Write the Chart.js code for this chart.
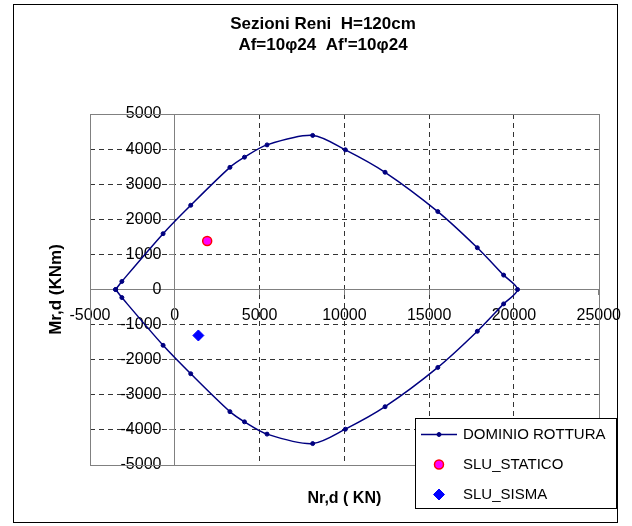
<!DOCTYPE html>
<html>
<head>
<meta charset="utf-8">
<title>Sezioni Reni</title>
<script src="https://cdn.jsdelivr.net/npm/chart.js@4.4.0/dist/chart.umd.min.js"></script>
<style>
  html, body { margin: 0; padding: 0; background: #fff; }
  canvas { display: block; }
</style>
</head>
<body>
<canvas id="myChart" width="632" height="526"></canvas>
<script>
// testi
const titleLines = ['Sezioni Reni  H=120cm', "Af=10\u03c624  Af'=10\u03c624"];
const xTitle = 'Nr,d ( KN)';
const yTitle = 'Mr,d (KNm)';

// assi
const xTicks = [-5000, 0, 5000, 10000, 15000, 20000, 25000];
const yTicks = [-5000, -4000, -3000, -2000, -1000, 0, 1000, 2000, 3000, 4000, 5000];

// dominio di rottura (N, M)
const dominioN = [-3490, -3120, -690, 940, 3250, 4110, 5440, 8130, 10060, 12400, 15510, 17840, 19390, 20210,
                  19390, 17840, 15510, 12400, 10060, 8130, 5440, 4110, 3250, 940, -690, -3120, -3490];
const dominioM = [0, 230, 1590, 2400, 3480, 3770, 4120, 4390, 3980, 3340, 2220, 1190, 410, 0,
                  -410, -1190, -2220, -3340, -3980, -4390, -4120, -3770, -3480, -2400, -1590, -230, 0];

// sollecitazioni
const staticoN = [1910];
const staticoM = [1380];
const sismaN = [1390];
const sismaM = [-1310];

const seriesNames = ['DOMINIO ROTTURA', 'SLU_STATICO', 'SLU_SISMA'];

function toPoints(xs, ys) {
    return xs.map((x, i) => ({ x: x, y: ys[i] }));
}

const FONT = "'Liberation Sans', Arial, sans-serif";
const GRID = '#333333';
const AXIS = '#808080';

function gridColor(ticks) {
    return ctx => {
        if (!ctx.tick) return GRID;
        const v = ctx.tick.value;
        if (v === 0 || v === ticks[0] || v === ticks[ticks.length - 1]) return 'rgba(0,0,0,0)';
        return GRID;
    };
}

const framePlugin = {
    id: 'frame',
    beforeDraw(chart) {
        const c = chart.ctx;
        c.save();
        c.fillStyle = '#fff';
        c.fillRect(0, 0, chart.width, chart.height);
        c.strokeStyle = '#000';
        c.lineWidth = 1;
        c.strokeRect(13.5, 4.5, 604, 518);
        c.restore();
    },
    beforeDatasetsDraw(chart) {
        const a = chart.chartArea;
        const c = chart.ctx;
        c.save();
        c.strokeStyle = AXIS;
        c.lineWidth = 1;
        c.strokeRect(Math.round(a.left) + 0.5, Math.round(a.top) + 0.5,
                     Math.round(a.right - a.left), Math.round(a.bottom - a.top));
        c.restore();
    },
    afterDraw(chart) {
        const c = chart.ctx;
        const a = chart.chartArea;
        c.save();
        c.fillStyle = '#000';
        // titolo
        c.font = 'bold 17px ' + FONT;
        c.textAlign = 'center';
        c.textBaseline = 'alphabetic';
        c.fillText(titleLines[0], 323, 29);
        c.fillText(titleLines[1], 323, 50);
        // titoli assi
        c.font = 'bold 16px ' + FONT;
        c.fillText(xTitle, (a.left + a.right) / 2, 503);
        c.font = 'bold 17px ' + FONT;
        c.translate(61, (a.top + a.bottom) / 2);
        c.rotate(-Math.PI / 2);
        c.fillText(yTitle, 0, 0);
        c.restore();

        // legenda
        c.save();
        const lx = 415, ly = 418, lw = 201, lh = 90;
        c.fillStyle = '#fff';
        c.fillRect(lx, ly, lw, lh);
        c.strokeStyle = '#000';
        c.lineWidth = 1;
        c.strokeRect(lx + 0.5, ly + 0.5, lw, lh);
        const rows = [434, 464, 494];
        chart.data.datasets.forEach((ds, i) => {
            const y = rows[i];
            if (ds.showLine) {
                c.strokeStyle = ds.borderColor;
                c.lineWidth = ds.borderWidth;
                c.beginPath();
                c.moveTo(421, y + 0.5);
                c.lineTo(457, y + 0.5);
                c.stroke();
            }
            c.fillStyle = ds.pointBackgroundColor;
            c.strokeStyle = ds.pointBorderColor;
            c.lineWidth = ds.pointBorderWidth;
            Chart.helpers.drawPoint(c, {
                pointStyle: ds.pointStyle,
                radius: ds.pointRadius,
                borderWidth: ds.pointBorderWidth
            }, 439, y + 0.5);
            c.fillStyle = '#000';
            c.font = '15px ' + FONT;
            c.textAlign = 'left';
            c.textBaseline = 'middle';
            c.fillText(ds.label, 463, y + 1);
        });
        c.restore();
    }
};

const ctx = document.getElementById('myChart').getContext('2d');
const myChart = new Chart(ctx, {
    type: 'scatter',
    data: {
        datasets: [
            {
                label: seriesNames[0],
                data: toPoints(dominioN, dominioM),
                showLine: true,
                borderColor: '#000080',
                borderWidth: 1.5,
                tension: 0.3,
                pointStyle: 'circle',
                pointRadius: 2,
                pointBackgroundColor: '#000080',
                pointBorderColor: '#000080',
                pointBorderWidth: 1
            },
            {
                label: seriesNames[1],
                data: toPoints(staticoN, staticoM),
                showLine: false,
                pointStyle: 'circle',
                pointRadius: 4.5,
                pointBackgroundColor: '#FF00FF',
                pointBorderColor: '#FF0000',
                pointBorderWidth: 1.5
            },
            {
                label: seriesNames[2],
                data: toPoints(sismaN, sismaM),
                showLine: false,
                pointStyle: 'rectRot',
                pointRadius: 5.5,
                pointBackgroundColor: '#0000FF',
                pointBorderColor: '#0000FF',
                pointBorderWidth: 1
            }
        ]
    },
    options: {
        responsive: false,
        animation: false,
        events: [],
        layout: { padding: { left: 90, top: 114, right: 27, bottom: 61 } },
        plugins: {
            legend: { display: false },
            title: { display: false },
            tooltip: { enabled: false }
        },
        scales: {
            x: {
                type: 'linear',
                position: { y: 0 },
                min: xTicks[0],
                max: xTicks[xTicks.length - 1],
                afterBuildTicks: s => { s.ticks = xTicks.map(v => ({ value: v })); },
                grid: { color: gridColor(xTicks), lineWidth: 1, tickLength: 5, tickColor: AXIS },
                border: { display: true, color: AXIS, width: 1, dash: [5, 4] },
                ticks: {
                    color: '#000',
                    font: { family: FONT, size: 16 },
                    padding: 11,
                    maxRotation: 0,
                    autoSkip: false,
                    callback: v => String(v)
                }
            },
            y: {
                type: 'linear',
                position: { x: 0 },
                min: yTicks[0],
                max: yTicks[yTicks.length - 1],
                afterBuildTicks: s => { s.ticks = yTicks.map(v => ({ value: v })); },
                grid: { color: gridColor(yTicks), lineWidth: 1, tickLength: 5, tickColor: AXIS },
                border: { display: true, color: AXIS, width: 1, dash: [5, 4] },
                ticks: {
                    color: '#000',
                    font: { family: FONT, size: 16 },
                    padding: 8,
                    autoSkip: false,
                    // etichette staccate dall'asse (spazi finali)
                    callback: v => String(v) + '   '
                }
            }
        }
    },
    plugins: [framePlugin]
});
</script>
</body>
</html>
